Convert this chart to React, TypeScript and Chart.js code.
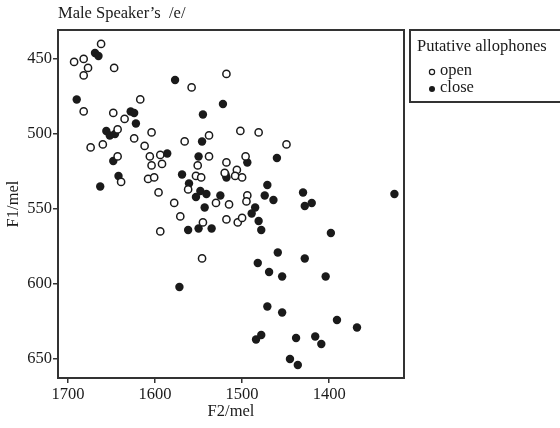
import React, { useEffect, useRef } from "react";
import { Chart, registerables } from "chart.js";

Chart.register(...registerables);

const chartTitle = "Male Speaker’s  /e/";
const xTitle = "F2/mel";
const yTitle = "F1/mel";
const legendTitle = "Putative allophones";
const seriesNames = ["open", "close"];
const xTicks = [1700, 1600, 1500, 1400];
const yTicks = [450, 500, 550, 600, 650];

const openF2 = [1662, 1693, 1682, 1677, 1682, 1647, 1682, 1617, 1648, 1635, 1643, 1604, 1674, 1660, 1624, 1612, 1643, 1606, 1594, 1604, 1592, 1608, 1601, 1639, 1596, 1558, 1518, 1538, 1566, 1538, 1551, 1553, 1547, 1562, 1502, 1481, 1449, 1496, 1518, 1506, 1520, 1508, 1500, 1578, 1530, 1515, 1494, 1495, 1571, 1518, 1505, 1500, 1594, 1545, 1546];
const openF1 = [440, 452, 450, 456, 461, 456, 485, 477, 486, 490, 497, 499, 509, 507, 503, 508, 515, 515, 514, 521, 520, 530, 529, 532, 539, 469, 460, 501, 505, 515, 521, 528, 529, 537, 498, 499, 507, 515, 519, 524, 526, 528, 529, 546, 546, 547, 541, 545, 555, 557, 559, 556, 565, 559, 583];

const closeF2 = [1669, 1665, 1690, 1628, 1624, 1622, 1656, 1652, 1646, 1648, 1642, 1663, 1586, 1577, 1522, 1545, 1546, 1550, 1569, 1561, 1548, 1541, 1525, 1553, 1494, 1460, 1519, 1518, 1543, 1471, 1474, 1464, 1485, 1489, 1430, 1428, 1420, 1481, 1325, 1562, 1550, 1535, 1572, 1478, 1398, 1459, 1428, 1482, 1469, 1454, 1404, 1471, 1454, 1391, 1368, 1484, 1478, 1438, 1416, 1409, 1445, 1436];
const closeF1 = [446, 448, 477, 485, 486, 493, 498, 501, 500, 518, 528, 535, 513, 464, 480, 487, 505, 515, 527, 533, 538, 540, 541, 542, 519, 516, 527, 529, 549, 534, 541, 544, 549, 553, 539, 548, 546, 558, 540, 564, 563, 563, 602, 564, 566, 579, 583, 586, 592, 595, 595, 615, 619, 624, 629, 637, 634, 636, 635, 640, 650, 654];

const FONT = '"Liberation Serif", "Times New Roman", serif';
const INK = "#1a1a1a";
const FRAME = "#333333";

const toPoints = (xs: number[], ys: number[]) => xs.map((x, i) => ({ x, y: ys[i] }));

const framePlugin = {
  id: "frameAndLegend",
  afterDraw(chart: any) {
    const { ctx, chartArea } = chart;
    ctx.save();
    ctx.lineWidth = 2;
    ctx.strokeStyle = FRAME;
    ctx.strokeRect(chartArea.left, chartArea.top, chartArea.right - chartArea.left, chartArea.bottom - chartArea.top);
    // legend box
    const x0 = chartArea.right + 6;
    const y0 = chartArea.top;
    ctx.strokeRect(x0, y0, 200, 72);
    ctx.fillStyle = INK;
    ctx.textBaseline = "middle";
    ctx.textAlign = "left";
    ctx.font = `16.5px ${FONT}`;
    ctx.fillText(legendTitle, x0 + 7, y0 + 17);
    // open item
    ctx.beginPath();
    ctx.arc(x0 + 22, y0 + 42, 2.6, 0, Math.PI * 2);
    ctx.fillStyle = "#fff";
    ctx.fill();
    ctx.lineWidth = 1.2;
    ctx.strokeStyle = INK;
    ctx.stroke();
    ctx.fillStyle = INK;
    ctx.fillText(seriesNames[0], x0 + 30, y0 + 41);
    // close item
    ctx.beginPath();
    ctx.arc(x0 + 22, y0 + 59, 3, 0, Math.PI * 2);
    ctx.fill();
    ctx.fillText(seriesNames[1], x0 + 30, y0 + 58);
    ctx.restore();
  },
};

export default function App() {
  const canvasRef = useRef<HTMLCanvasElement | null>(null);

  useEffect(() => {
    document.body.style.margin = "0";
    if (!canvasRef.current) return;
    const chart = new Chart(canvasRef.current, {
      type: "scatter",
      data: {
        datasets: [
          {
            label: seriesNames[0],
            data: toPoints(openF2, openF1),
            backgroundColor: "#ffffff",
            borderColor: INK,
            borderWidth: 1.5,
            pointRadius: 3.6,
          },
          {
            label: seriesNames[1],
            data: toPoints(closeF2, closeF1),
            backgroundColor: INK,
            borderColor: INK,
            borderWidth: 0,
            pointRadius: 4.2,
          },
        ],
      },
      options: {
        animation: false,
        responsive: true,
        maintainAspectRatio: false,
        events: [],
        layout: { padding: { top: 0, left: 0, bottom: 0, right: 156 } },
        plugins: {
          legend: { display: false },
          tooltip: { enabled: false },
          title: {
            display: true,
            text: chartTitle,
            align: "start",
            fullSize: false,
            color: INK,
            font: { family: FONT, size: 16.5, weight: "normal" },
            padding: { top: 4.1, bottom: 6.1 },
          },
        },
        scales: {
          x: {
            type: "linear",
            reverse: true,
            min: 1314,
            max: 1711.5,
            afterBuildTicks: (s: any) => {
              s.ticks = xTicks.map((v) => ({ value: v }));
            },
            afterFit: (s: any) => {
              s.height = 50;
            },
            border: { display: false },
            grid: { drawOnChartArea: false, drawTicks: true, tickLength: 5, color: FRAME, lineWidth: 1.5 },
            ticks: {
              color: INK,
              padding: 2,
              maxRotation: 0,
              font: { family: FONT, size: 16.5 },
              callback: (v: any) => String(v),
            },
            title: {
              display: true,
              text: xTitle,
              color: INK,
              font: { family: FONT, size: 16.5 },
              padding: { top: 0, bottom: 6 },
            },
          },
          y: {
            type: "linear",
            reverse: true,
            min: 430.7,
            max: 662.7,
            afterBuildTicks: (s: any) => {
              s.ticks = yTicks.map((v) => ({ value: v }));
            },
            afterFit: (s: any) => {
              s.width = 58;
            },
            border: { display: false },
            grid: { drawOnChartArea: false, drawTicks: true, tickLength: 5, color: FRAME, lineWidth: 1.5 },
            ticks: {
              color: INK,
              padding: 1,
              font: { family: FONT, size: 16.5 },
              callback: (v: any) => String(v),
            },
            title: {
              display: true,
              text: yTitle,
              color: INK,
              font: { family: FONT, size: 16.5 },
              padding: { top: 4, bottom: 0 },
            },
          },
        },
      },
      plugins: [framePlugin],
    });
    return () => chart.destroy();
  }, []);

  return (
    <div style={{ position: "relative", width: "560px", height: "428px" }}>
      <canvas ref={canvasRef} />
    </div>
  );
}
